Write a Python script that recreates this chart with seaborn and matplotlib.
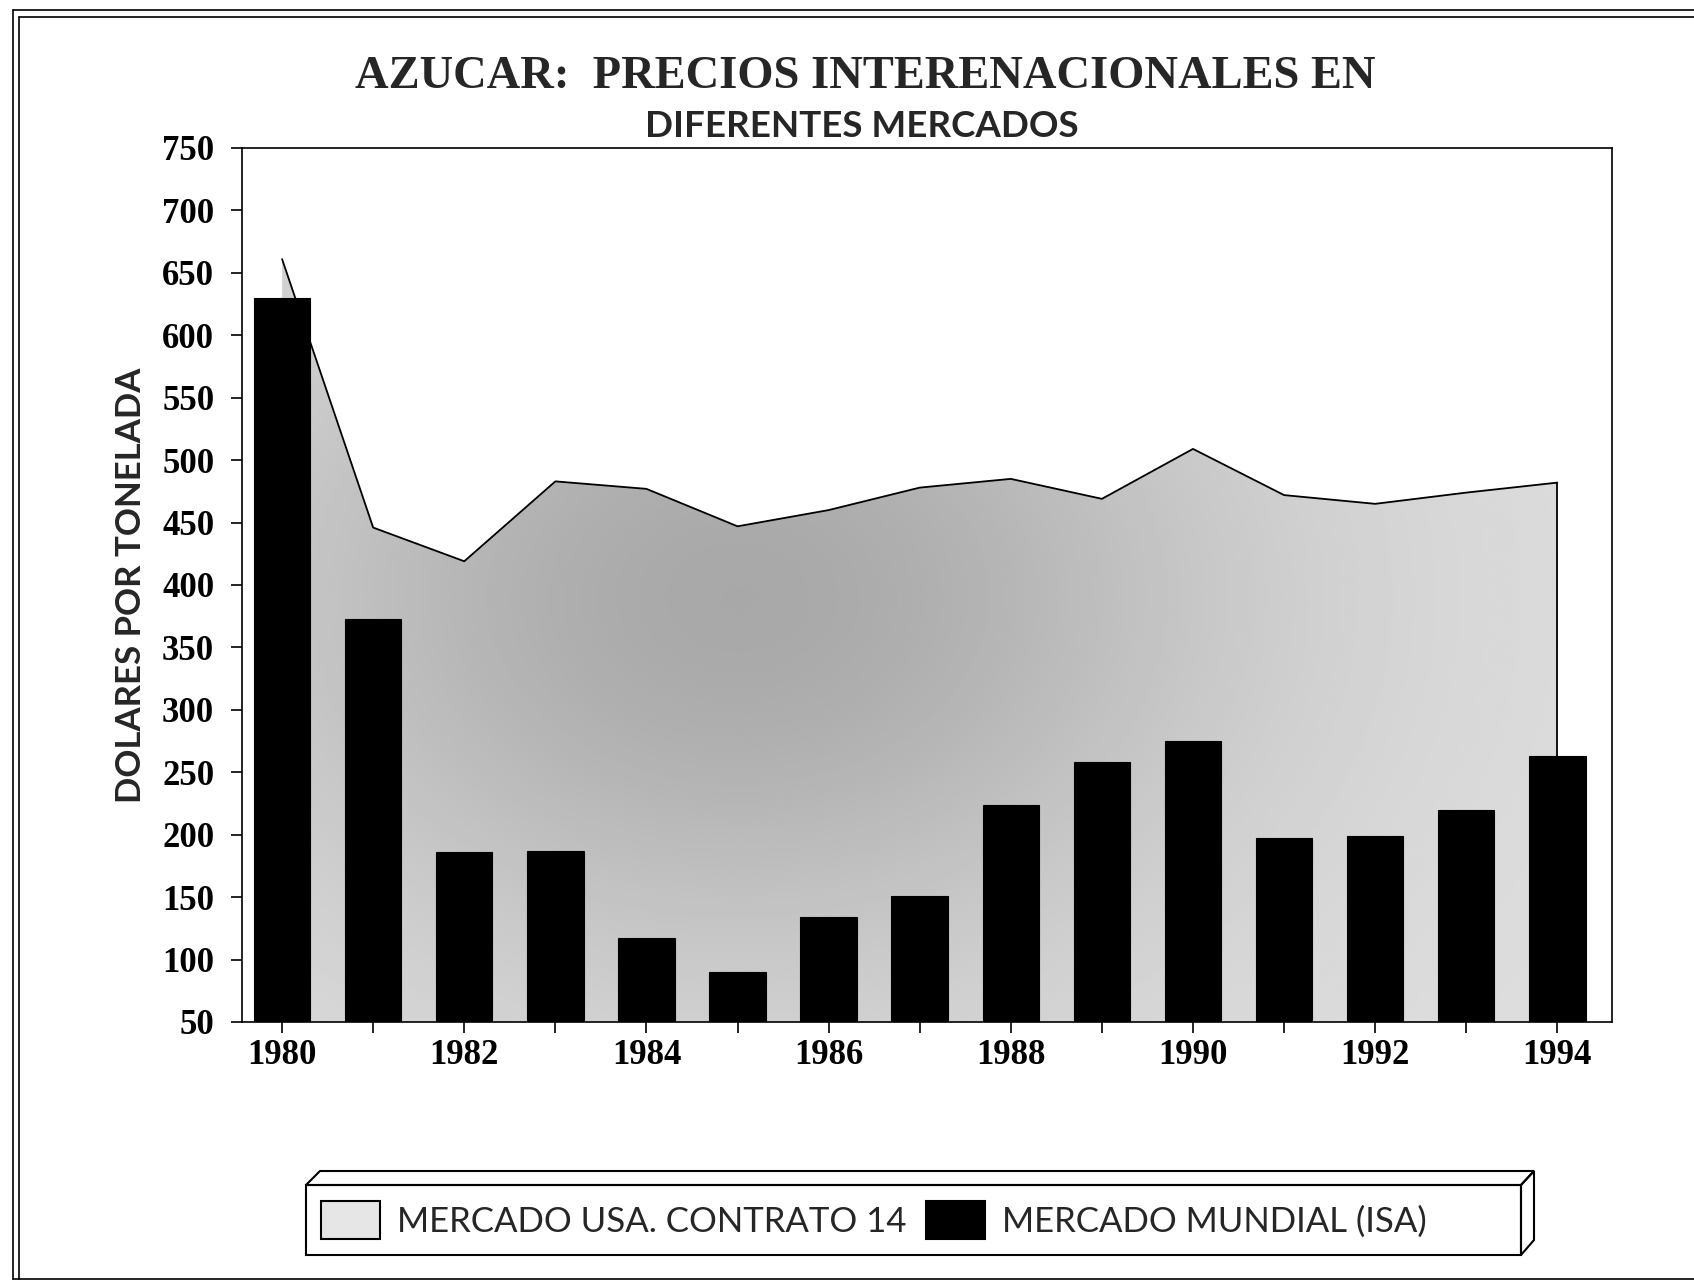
import numpy as np
import pandas as pd
import matplotlib
matplotlib.use("Agg")
import matplotlib.pyplot as plt
import seaborn as sns
from matplotlib.patches import Patch, Polygon, Rectangle
from matplotlib.lines import Line2D

# data (US$ per tonne)
years = [1980, 1981, 1982, 1983, 1984, 1985, 1986, 1987,
         1988, 1989, 1990, 1991, 1992, 1993, 1994]
usa_contrato14 = [661, 446, 419, 483, 477, 447, 460, 478,
                  485, 469, 509, 472, 465, 474, 482]
mundial_isa = [630, 373, 186, 187, 117, 90, 134, 151,
               224, 258, 275, 197, 199, 220, 263]
y_ticks = list(range(50, 751, 50))
x_labels = [str(y) if y % 2 == 0 else "" for y in years]

title_1 = "AZUCAR:  PRECIOS INTERENACIONALES EN"
title_2 = "DIFERENTES MERCADOS"
y_title = "DOLARES POR TONELADA"
legend_labels = ["MERCADO USA. CONTRATO 14", "MERCADO MUNDIAL (ISA)"]

df = pd.DataFrame({"pos": np.arange(len(years)),
                   "usa": usa_contrato14,
                   "mundial": mundial_isa})

sns.set_style("ticks")
plt.rcParams["font.family"] = ["Liberation Serif", "DejaVu Serif"]

W, H = 1694, 1282
fig = plt.figure(figsize=(W / 100, H / 100), dpi=100)


def fx(px):
    return px / W


def fy(py):
    return 1 - py / H


ax = fig.add_axes([fx(242), fy(1022), fx(1612) - fx(242), fy(148) - fy(1022)])

# -------------------------------
# bars: world market
# -------------------------------
sns.barplot(x="pos", y="mundial", data=df, ax=ax, color="black",
            saturation=1, width=0.62, edgecolor="black", linewidth=0.8, zorder=3)

# -------------------------------
# area: USA contract 14 (grey shaded area)
# -------------------------------
area = ax.fill_between(df["pos"], 50, df["usa"], facecolor="none",
                       edgecolor="none", zorder=1)
gx = np.linspace(-0.44, 14.6, 400)
gy = np.linspace(50, 750, 300)
GX, GY = np.meshgrid(gx, gy)
shade = 0.87 - 0.21 * np.exp(-((GX - 5.0) / 5.5) ** 2 - ((GY - 390) / 300) ** 2)
im = ax.imshow(shade, extent=[gx[0], gx[-1], 50, 750], origin="lower",
               aspect="auto", cmap="gray", vmin=0, vmax=1, zorder=1)
im.set_clip_path(area.get_paths()[0], transform=ax.transData)
sns.lineplot(x="pos", y="usa", data=df, ax=ax, color="black", lw=1.3, zorder=2)
ax.vlines(df["pos"].iloc[-1], 50, df["usa"].iloc[-1], color="black", lw=1.3, zorder=2)

# axes look
ax.set_xlim(-0.44, 14.6)
ax.set_ylim(50, 750)
ax.set_yticks(y_ticks)
ax.set_xticks(df["pos"])
ax.set_xticklabels(x_labels)
ax.set_xlabel("")
for s in ax.spines.values():
    s.set_visible(True)
    s.set_linewidth(1.2)
    s.set_color("black")
ax.tick_params(axis="both", direction="out", length=8, width=1.2, colors="black",
               labelsize=25)
ax.tick_params(axis="y", pad=12)
ax.tick_params(axis="x", pad=4)
for lab in ax.get_xticklabels() + ax.get_yticklabels():
    lab.set_fontweight("bold")

lab = ax.set_ylabel(y_title, family=["Lato", "DejaVu Sans"], fontsize=25,
                    fontweight="bold", va="center")
ax.yaxis.set_label_coords((131 - 242) / 1370, 0.5)

# titles
fig.text(fx(865), fy(88), title_1, ha="center", va="baseline", fontsize=33.5,
         fontweight="bold", family=["Liberation Serif", "DejaVu Serif"])
fig.text(fx(862), fy(137), title_2, ha="center", va="baseline", fontsize=26.5,
         fontweight="bold", family=["Lato", "DejaVu Sans"])

# -------------------------------
# legend inside a 3D box
# -------------------------------
handles = [Patch(facecolor="#e6e6e6", edgecolor="black", lw=1.5),
           Patch(facecolor="black", edgecolor="black", lw=1.5)]
fig.legend(handles, legend_labels, loc="center left",
           bbox_to_anchor=(fx(321), fy(1220)), ncol=2, frameon=False,
           borderpad=0, borderaxespad=0, handlelength=1.7, handleheight=1.35,
           handletextpad=0.5, columnspacing=0.55,
           prop={"family": ["Lato", "DejaVu Sans"], "size": 25})

box_front = Rectangle((fx(306), fy(1255)), fx(1521) - fx(306), (1255 - 1185) / H,
                      transform=fig.transFigure, fill=False, lw=1.5, ec="black")
box_top = Polygon([(fx(306), fy(1185)), (fx(320), fy(1171)), (fx(1534), fy(1171)),
                   (fx(1521), fy(1185))], closed=True, transform=fig.transFigure,
                  fill=False, lw=1.5, ec="black")
box_side = Polygon([(fx(1521), fy(1185)), (fx(1534), fy(1171)), (fx(1534), fy(1240)),
                    (fx(1521), fy(1255))], closed=True, transform=fig.transFigure,
                   fill=False, lw=1.5, ec="black")
for p in (box_front, box_top, box_side):
    fig.add_artist(p)

# page frame (double line left/top)
frame = [([13, 13], [10, 1279]), ([19, 19], [17, 1279]),
         ([13, W], [10, 10]), ([19, W], [17, 17]), ([13, W], [1279, 1279])]
for xs, ys in frame:
    fig.add_artist(Line2D([fx(v) for v in xs], [fy(v) for v in ys],
                          transform=fig.transFigure, color="black", lw=1.2))

fig.savefig("out.png", dpi=100)
